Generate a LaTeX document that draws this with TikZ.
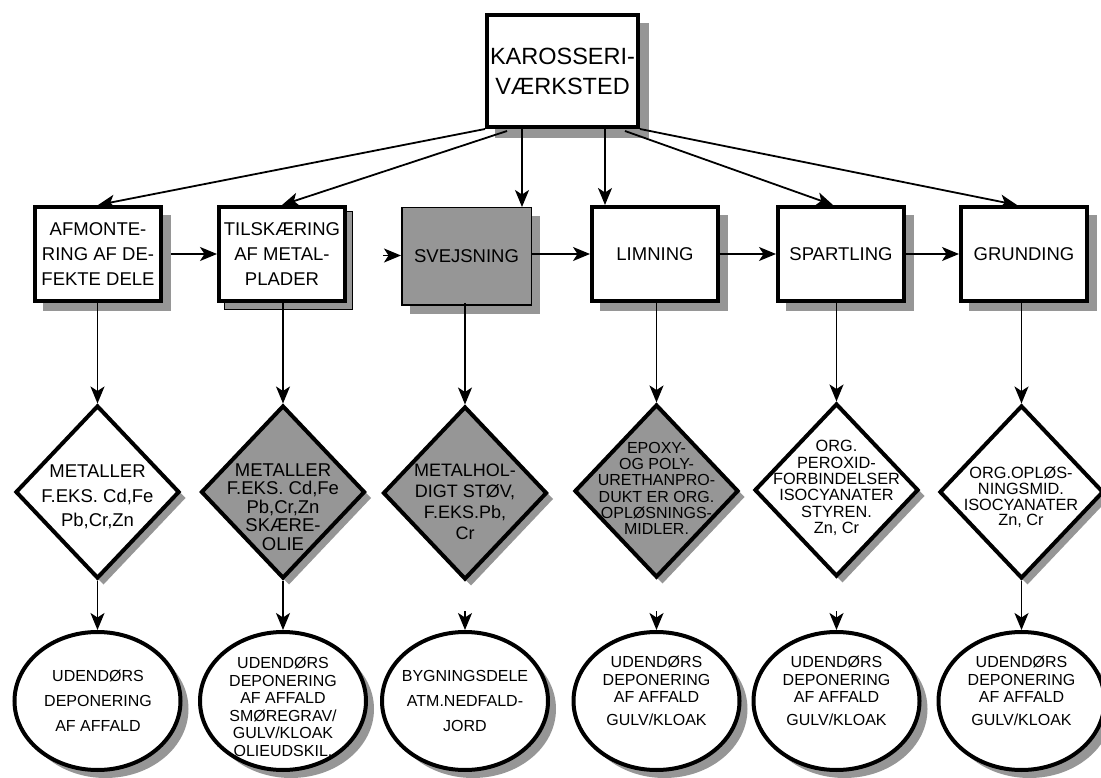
\documentclass[tikz,border=0pt]{standalone}
\usepackage{fontspec}
\setmainfont{Liberation Sans}
\usetikzlibrary{shapes.geometric,calc,arrows.meta}
\definecolor{fillgray}{RGB}{150,150,150}
\newcommand{\setfs}[2]{\fontsize{#1}{#2}\selectfont}
\tikzset{
  boxbase/.style={rectangle,draw,line width=4pt,fill=white,minimum width=126pt,minimum height=94pt,
                  inner sep=2pt,align=center,font=\setfs{18.5}{25}},
  graybox/.style={rectangle,draw,line width=1.5pt,fill=fillgray,minimum width=129.5pt,minimum height=97.5pt,
                  inner sep=2pt,align=center,font=\setfs{18.5}{25}},
  topbox/.style={rectangle,draw,line width=4pt,fill=white,minimum width=151pt,minimum height=112pt,
                 inner sep=2pt,align=center,font=\setfs{23.5}{30}},
  dia/.style={diamond,draw,line width=4pt,fill=white,minimum width=164pt,minimum height=173pt,inner sep=0pt},
  graydia/.style={dia,fill=fillgray},
  ell/.style={ellipse,draw,line width=4pt,fill=white,minimum width=166pt,minimum height=138pt,inner sep=0pt},
  shadowshape/.style={fill=fillgray,draw=none},
  stackshape/.style={fill=fillgray,draw=black,line width=1pt},
  lbl/.style={align=center,inner sep=0pt},
  arr/.style={line width=1.8pt,-{Stealth[length=17pt,width=14pt,inset=4.5pt]}}
}
\begin{document}
\begin{tikzpicture}[x=1pt,y=-1pt]
\useasboundingbox (0,0) rectangle (1101,778);

% drop shadows, drawn first so that the shapes cover them
\fill[shadowshape] (495,23) rectangle (649,138);
\foreach \cx/\dx in {98/10,655/10,841/10,1024/10}
  \fill[shadowshape] (\cx-65+\dx,205+\dx) rectangle (\cx+65+\dx-2,303+\dx-2);
\filldraw[stackshape] (224,212) rectangle (352,309);
\fill[shadowshape] (410,216) rectangle (540,314);
\foreach \cx/\cy in {97.5/492,283/492,465/493,656.5/491,836.5/490,1021.5/492}
  \fill[shadowshape] (\cx+6,\cy-86.5+6) -- (\cx+82+6,\cy+6) -- (\cx+6,\cy+86.5+6) -- (\cx-82+6,\cy+6) -- cycle;
\foreach \cx in {97.5,283,465,656.5,836.5,1021.5}
  \fill[shadowshape] (\cx+8,709) ellipse [x radius=83pt, y radius=69pt];

% workshop
\node[topbox] (top) at (562.5,71) {KAROSSERI-\\VÆRKSTED};

% process steps
\node[boxbase] (b1) at (98,254) {AFMONTE-\\RING AF DE-\\FEKTE DELE};
\node[boxbase] (b2) at (282,254) {TILSKÆRING\\AF METAL-\\PLADER};
\node[graybox] (b3) at (466.5,256.5) {SVEJSNING};
\node[boxbase] (b4) at (655,254) {LIMNING};
\node[boxbase] (b5) at (841,254) {SPARTLING};
\node[boxbase] (b6) at (1024,254) {GRUNDING};

% waste products
\node[dia] (d1) at (97.5,492) {};
\node[graydia] (d2) at (283,492) {};
\node[graydia] (d3) at (465,493) {};
\node[graydia] (d4) at (656.5,491) {};
\node[dia] (d5) at (836.5,490) {};
\node[dia] (d6) at (1021.5,492) {};

\node[lbl,font=\setfs{18.5}{24.5}] (d1t) at (97.5,497) {METALLER\\F.EKS. Cd,Fe\\Pb,Cr,Zn};
\node[lbl,font=\setfs{18.5}{18.5}] (d2t) at (283,507) {METALLER\\F.EKS. Cd,Fe\\Pb,Cr,Zn\\SKÆRE-\\OLIE};
\node[lbl,font=\setfs{18}{21}] (d3t) at (465,502) {METALHOL-\\DIGT STØV,\\F.EKS.Pb,\\Cr};
\node[lbl,font=\setfs{16}{16.2}] (d4t) at (656.5,488.5) {EPOXY-\\OG POLY-\\URETHANPRO-\\DUKT ER ORG.\\OPLØSNINGS-\\MIDLER.};
\node[lbl,font=\setfs{16.3}{16.3}] (d5t) at (836.5,488) {ORG.\\PEROXID-\\FORBINDELSER\\ISOCYANATER\\STYREN.\\Zn, Cr};
\node[lbl,font=\setfs{16.3}{15.8}] (d6t) at (1021,497.5) {ORG.OPLØS-\\NINGSMID.\\ISOCYANATER\\Zn, Cr};

% recipients
\node[ell] (e1) at (97.5,701) {};
\node[ell] (e2) at (283,701) {};
\node[ell] (e3) at (465,701) {};
\node[ell] (e4) at (656.5,701) {};
\node[ell] (e5) at (836.5,701) {};
\node[ell] (e6) at (1021.5,701) {};

\node[lbl,font=\setfs{16}{25}] (e1t) at (98,701) {UDENDØRS\\DEPONERING\\AF AFFALD};
\node[lbl,font=\setfs{16}{17.5}] (e2t) at (283,707) {UDENDØRS\\DEPONERING\\AF AFFALD\\SMØREGRAV/\\GULV/KLOAK\\OLIEUDSKIL.};
\node[lbl,font=\setfs{16}{25}] (e3t) at (465,701) {BYGNINGSDELE\\ATM.NEDFALD-\\JORD};
\node[lbl,font=\setfs{16}{17.5}] (e4t) at (656.5,691) {UDENDØRS\\DEPONERING\\AF AFFALD\\[5pt]GULV/KLOAK};
\node[lbl,font=\setfs{16}{17.5}] (e5t) at (836.5,691) {UDENDØRS\\DEPONERING\\AF AFFALD\\[5pt]GULV/KLOAK};
\node[lbl,font=\setfs{16}{17.5}] (e6t) at (1021.5,691) {UDENDØRS\\DEPONERING\\AF AFFALD\\[5pt]GULV/KLOAK};

% workshop to steps
\coordinate (s2) at ($(top.south west)+(22,2)$);
\coordinate (s3) at ($(top.south west)+(37,0)$);
\coordinate (s4) at ($(top.south west)+(120,0)$);
\coordinate (s5) at ($(top.south east)+(-15,2)$);
\draw[arr] (top.south west) -- (b1.north);
\draw[arr] (s2) -- (b2.north);
\draw[arr] (s3) -- (s3 |- b3.north);
\draw[arr] (s4) -- (s4 |- b4.north);
\draw[arr] (s5) -- ($(b5.north)+(-8,0)$);
\draw[arr] (top.south east) -- ($(b6.north)+(-7,0)$);

% step sequence
\coordinate (a23) at (383,255.5);
\draw[arr] ($(b1.east)+(8,0)$) -- (b2.west);
\draw[arr] (a23) -- (a23 -| b3.west);
\draw[arr] (b3.east |- b4.west) -- (b4.west);
\draw[arr] (b4.east) -- (b5.west);
\draw[arr] (b5.east) -- (b6.west);

% steps to waste products
\draw[arr] (d1.north |- b1.south) -- (d1.north);
\draw[arr] (d2.north |- b2.south) -- (d2.north);
\draw[arr] ($(d3.north |- b3.south)+(0,-3)$) -- (d3.north);
\draw[arr] (d4.north |- b4.south) -- (d4.north);
\draw[arr] (d5.north |- b5.south) -- (d5.north);
\draw[arr] (d6.north |- b6.south) -- (d6.north);

% waste products to recipients
\coordinate (t3) at ($(e3.north)+(0,-19)$);
\coordinate (t4) at ($(e4.north)+(0,-19)$);
\coordinate (t5) at ($(e5.north)+(0,-19)$);
\draw[arr] (d1.south) -- (e1.north);
\draw[arr] (d2.south) -- (e2.north);
\draw[arr] (t3) -- (e3.north);
\draw[arr] (t4) -- (e4.north);
\draw[arr] (t5) -- (e5.north);
\draw[arr] (d6.south) -- (e6.north);
\end{tikzpicture}
\end{document}
